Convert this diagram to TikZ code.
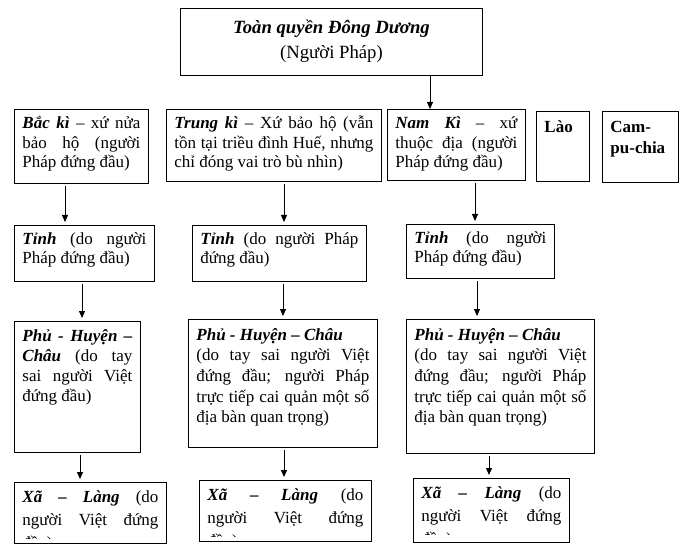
\documentclass[tikz,border=0pt]{standalone}
\usepackage{fontspec}
\setmainfont{Liberation Serif}
\usetikzlibrary{arrows.meta}
\newcommand{\bi}[1]{\textbf{\textit{#1}}}
\newcommand{\celltext}[4]{\parbox[c][#2pt][t]{#1pt}{\baselineskip=#3pt\relax\tolerance=10000\hbadness=10000\hyphenpenalty=10000\hbox{}#4}}
\tikzset{
  cell/.style={draw, line width=0.9pt, anchor=north west, inner xsep=8pt, inner ysep=0pt, font=\fontsize{17}{20}\selectfont},
  link/.style={-{Triangle[length=7pt,width=6pt]}, line width=0.8pt, shorten <=2pt, shorten >=3pt},
}
\begin{document}
\begin{tikzpicture}[x=1pt,y=1pt]
\useasboundingbox (0,0) rectangle (691,-548);
\node[cell, font=\fontsize{18.7}{25}\selectfont] (toan) at (180,-8) {\celltext{286}{67}{25}{\centering\bi{Toàn quyền Đông Dương}\\(Người Pháp)}};

% ky
\node[cell] (bac) at (14,-109) {\celltext{118}{74}{19.5}{\bi{Bắc kì} – xứ nửa\linebreak bảo hộ (người\linebreak Pháp đứng đầu)}};
\node[cell] (trung) at (166,-109) {\celltext{199}{72}{19.5}{\bi{Trung kì} – Xứ bảo hộ (vẫn\linebreak tồn tại triều đình Huế, nhưng\linebreak chỉ đóng vai trò bù nhìn)}};
\node[cell] (nam) at (387,-109) {\celltext{122}{71}{19.5}{\bi{Nam Kì} – xứ\linebreak thuộc địa (người\linebreak Pháp đứng đầu)}};
\node[cell] (lao) at (536,-111) {\celltext{37}{70}{21}{\textbf{Lào}}};
\node[cell] (cam) at (602,-111) {\celltext{60}{71}{21}{\textbf{Cam-}\\\textbf{pu-chia}}};

% tinh
\node[cell] (tinh1) at (14,-225) {\celltext{124}{56}{19}{\bi{Tỉnh} (do người\linebreak Pháp đứng đầu)}};
\node[cell] (tinh2) at (192,-225) {\celltext{158}{56}{19}{\bi{Tỉnh} (do người Pháp\linebreak đứng đầu)}};
\node[cell] (tinh3) at (406,-224) {\celltext{132}{54}{19}{\bi{Tỉnh} (do người\linebreak Pháp đứng đầu)}};

% phu - huyen - chau
\node[cell] (phu1) at (14,-321) {\celltext{110}{131}{20}{\bi{Phủ - Huyện –}\linebreak \bi{Châu} (do tay\linebreak sai người Việt\linebreak đứng đầu)}};
\node[cell] (phu2) at (188,-319) {\celltext{173}{128}{20.7}{\bi{Phủ - Huyện – Châu}\\(do tay sai người Việt\linebreak đứng đầu; người Pháp\linebreak trực tiếp cai quản một số\linebreak địa bàn quan trọng)}};
\node[cell] (phu3) at (406,-319) {\celltext{172}{134}{20.7}{\bi{Phủ - Huyện – Châu}\\(do tay sai người Việt\linebreak đứng đầu; người Pháp\linebreak trực tiếp cai quản một số\linebreak địa bàn quan trọng)}};

% xa - lang (text cut at the bottom)
\begin{scope}
\clip (10,-470) rectangle (172,-538) (195,-470) rectangle (375,-536) (409,-470) rectangle (573,-534);
\node[cell, draw=none] (xa1) at (14,-482) {\celltext{136}{61}{23}{\vspace*{-3pt}\bi{Xã – Làng} (do\linebreak người Việt đứng\linebreak đầu)}};
\node[cell, draw=none] (xa2) at (199,-480) {\celltext{156}{61}{23}{\vspace*{-3pt}\bi{Xã – Làng} (do\linebreak người Việt đứng\linebreak đầu)}};
\node[cell, draw=none] (xa3) at (413,-478) {\celltext{140}{64}{23}{\vspace*{-3pt}\bi{Xã – Làng} (do\linebreak người Việt đứng\linebreak đầu)}};
\end{scope}
\foreach \n in {xa1,xa2,xa3}
  \draw[line width=0.9pt] (\n.north west) rectangle (\n.south east);

\coordinate (q) at (430,0);
\draw[link, shorten <=0pt, shorten >=0pt] (toan.south -| q) -- (nam.north -| q);
\foreach \a/\b/\x in {bac/tinh1/65, trung/tinh2/284, nam/tinh3/475, tinh1/phu1/82, tinh2/phu2/283, tinh3/phu3/477, phu1/xa1/80, phu2/xa2/284, phu3/xa3/489}{
  \coordinate (p) at (\x,0);
  \draw[link] (\a.south -| p) -- (\b.north -| p);
}
\end{tikzpicture}
\end{document}
